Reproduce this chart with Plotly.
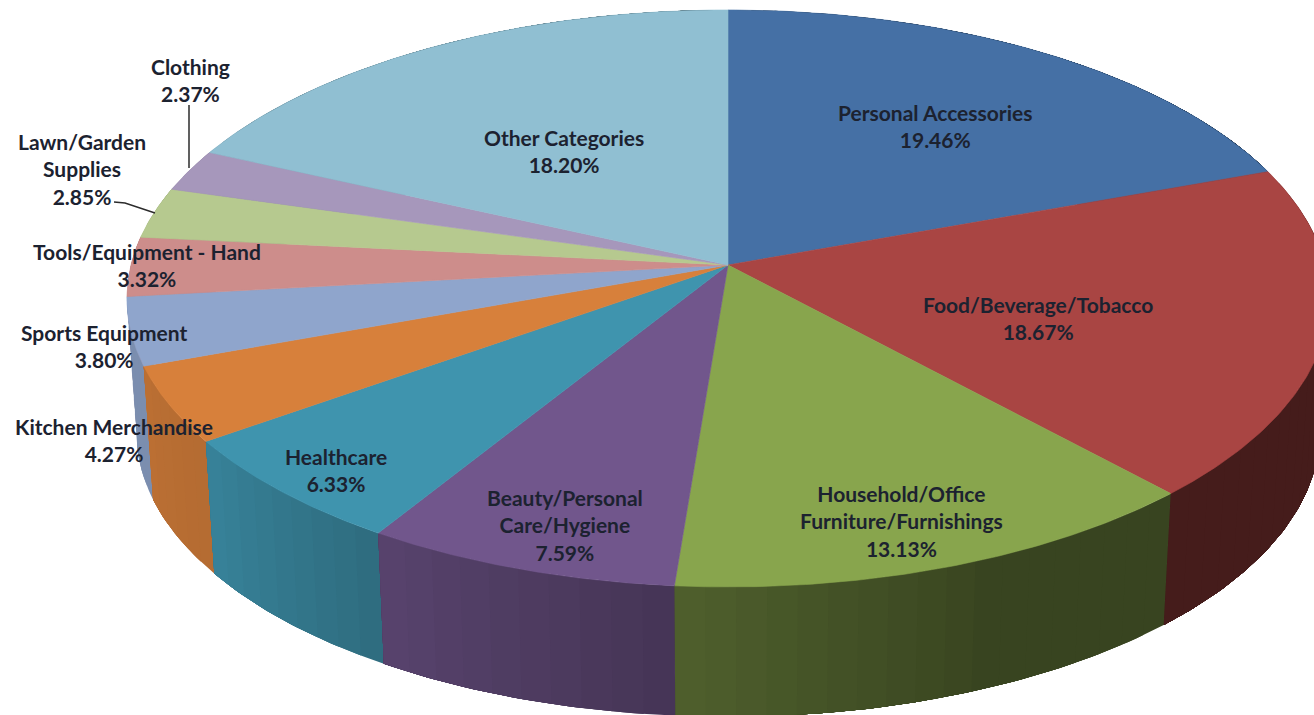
import numpy as np
import plotly.graph_objects as go

categories = ["Personal Accessories", "Food/Beverage/Tobacco", "Household/Office Furniture/Furnishings",
              "Beauty/Personal Care/Hygiene", "Healthcare", "Kitchen Merchandise", "Sports Equipment",
              "Tools/Equipment - Hand", "Lawn/Garden Supplies", "Clothing", "Other Categories"]
shares = [19.46, 18.67, 13.13, 7.59, 6.33, 4.27, 3.80, 3.32, 2.85, 2.37, 18.20]
label_lines = ["Personal Accessories", "Food/Beverage/Tobacco", "Household/Office<br>Furniture/Furnishings",
               "Beauty/Personal<br>Care/Hygiene", "Healthcare", "Kitchen Merchandise", "Sports Equipment",
               "Tools/Equipment - Hand", "Lawn/Garden<br>Supplies", "Clothing", "Other Categories"]
label_x = [935, 1038, 901, 565, 336, 114, 104, 147, 82, 190, 564]
label_y = [126, 318, 521, 525, 470, 440, 346, 265, 169, 80, 151]
top_colors = ["#4570a5", "#a94543", "#88a54d", "#71568c", "#3f94ae", "#d7803b",
              "#8fa5cc", "#cd8d8b", "#b6c98f", "#a697bb", "#90bfd2"]
# side-wall brightness at the start and the end of each slice, and the part of the slice that stays flat
wall_shade = [(0.41, 0.41), (0.41, 0.41), (0.41, 0.58), (0.61, 0.78), (0.73, 0.88), (0.84, 0.87),
              (0.86, 0.86), (0.86, 0.86), (0.8, 0.8), (0.8, 0.8), (0.6, 0.6)]
wall_flat = [0, 0, 0.4, 0, 0, 0, 0, 0, 0, 0, 0]
leader_x = [[189, 189], [114, 125, 155]]
leader_y = [[105, 168], [202, 203, 213]]

CX, CY, A, B, K = 728, 265, 597, 284.6, 0.116
S, DY = 0.984, 135


def top(theta):
    d = 1 + K * np.cos(theta)
    return CX + A * np.sin(theta) / d, CY - B * np.cos(theta) / d


def bottom(theta):
    x, y = top(theta)
    return CX + S * (x - CX), CY + S * (y - CY) + DY


def shade(hex_color, f):
    rgb = [int(hex_color[i:i + 2], 16) for i in (1, 3, 5)]
    return "rgb(%d,%d,%d)" % tuple(round(c * f) for c in rgb)


edges = np.cumsum([0] + shares) / sum(shares) * 2 * np.pi
fig = go.Figure()


def poly(x, y, color, width=0.0):
    fig.add_trace(go.Scatter(x=list(x), y=list(y), mode="lines", fill="toself", fillcolor=color,
                             line=dict(color=color, width=width), hoverinfo="skip", showlegend=False))


# side walls, far slices first; every strip runs on under the next one so no seams show
order = sorted(range(len(shares)), key=lambda i: -np.cos((edges[i] + edges[i + 1]) / 2))
for i in order:
    n = max(2, int((edges[i + 1] - edges[i]) / np.radians(2.5)))
    t = np.linspace(edges[i], edges[i + 1], n + 1)
    for j in range(n):
        tt = np.linspace(t[j], edges[i + 1], 3 * (n - j) + 1)
        tx, ty = top(tt)
        bx, by = bottom(tt[::-1])
        u = (j + 0.5) / n
        u = max(0.0, (u - wall_flat[i]) / (1 - wall_flat[i]))
        f = wall_shade[i][0] + (wall_shade[i][1] - wall_shade[i][0]) * u
        poly(np.r_[tx, bx], np.r_[ty, by], shade(top_colors[i], f))

# top faces
for i in range(len(shares)):
    tt = np.linspace(edges[i], edges[i + 1], 90)
    x, y = top(tt)
    poly(np.r_[CX, x, CX], np.r_[CY, y, CY], top_colors[i], 0.6)

for lx, ly in zip(leader_x, leader_y):
    fig.add_trace(go.Scatter(x=lx, y=ly, mode="lines", line=dict(color="#2b2b2b", width=1.5),
                             hoverinfo="skip", showlegend=False))

for name, v, x, y in zip(label_lines, shares, label_x, label_y):
    fig.add_annotation(x=x, y=y, text=f"{name}<br>{v:.2f}%", showarrow=False, xanchor="center", yanchor="middle",
                       font=dict(family="Lato", size=21, color="#1c2230", weight=700))

fig.update_xaxes(range=[0, 1314], visible=False, fixedrange=True)
fig.update_yaxes(range=[715, 0], visible=False, fixedrange=True)
fig.update_layout(width=1314, height=715, margin=dict(l=0, r=0, t=0, b=0),
                  paper_bgcolor="white", plot_bgcolor="white")
fig.write_html("out.html", config={"displayModeBar": False},
               post_script="document.body.style.margin='0';document.documentElement.style.overflow='hidden';")
